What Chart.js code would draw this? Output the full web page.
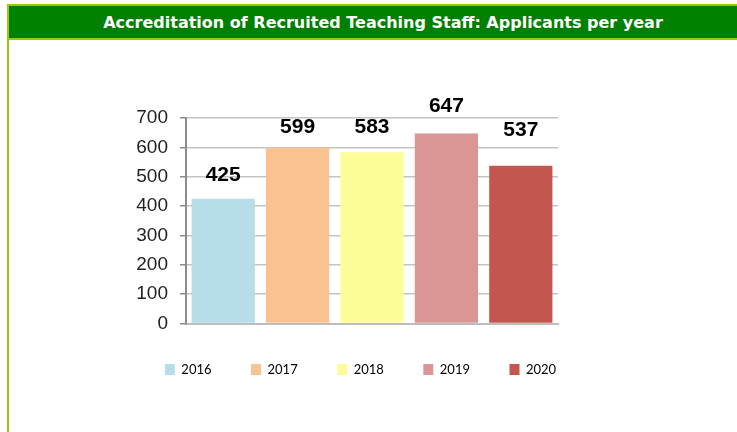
<!DOCTYPE html>
<html>
<head>
<meta charset="utf-8">
<script src="https://cdn.jsdelivr.net/npm/chart.js@4"></script>
<style>
  html, body { margin: 0; padding: 0; background: #fff; }
  body { width: 737px; height: 432px; position: relative; overflow: hidden; }
  #frame {
    position: absolute; left: 7px; top: 4px; right: -10px; bottom: -10px;
    border-left: 2px solid #99cc00; z-index: 2; pointer-events: none;
  }
  #head {
    height: 32px; background: #008000;
    border-top: 2px solid #99cc00; border-bottom: 2px solid #99cc00;
    color: #fff; font: bold 16px "DejaVu Sans", sans-serif;
    display: flex; align-items: center; justify-content: center;
    padding-left: 10px;
  }
  #wrap { position: absolute; left: 0; top: 0; width: 737px; height: 432px; z-index: 1; }
</style>
</head>
<body>
<div id="frame"><div id="head">Accreditation of Recruited Teaching Staff: Applicants per year</div></div>
<div id="wrap"><canvas id="chart"></canvas></div>
<script>
// ===== データ =====
const years = ["2016", "2017", "2018", "2019", "2020"];
const applicants = [425, 599, 583, 647, 537];
const yTicks = [0, 100, 200, 300, 400, 500, 600, 700];
const barColors = ["#b7dee8", "#fac191", "#fdfd97", "#d99694", "#c3574f"];

// 値ラベル（棒の上）
const valueLabels = {
  id: "valueLabels",
  afterDatasetsDraw(chart, args, opts) {
    const { ctx } = chart;
    const bars = chart.getDatasetMeta(0).data;
    ctx.save();
    ctx.font = "bold 21px 'Liberation Sans', Arial, sans-serif";
    ctx.fillStyle = "#000";
    ctx.textAlign = "center";
    ctx.textBaseline = "alphabetic";
    bars.forEach((b, i) => {
      ctx.fillText(String(applicants[i]), b.x, b.y - opts.gaps[i]);
    });
    ctx.restore();
  }
};

document.addEventListener("DOMContentLoaded", () => {
  const ctx = document.getElementById("chart");
  ctx.style.width = "737px";
  ctx.style.height = "432px";

  new Chart(ctx, {
    type: "bar",
    data: {
      labels: years,
      datasets: [{
        data: applicants,
        backgroundColor: barColors,
        borderWidth: 0,
        categoryPercentage: 1,
        barPercentage: 0.85
      }]
    },
    options: {
      responsive: false,
      animation: false,
      layout: { padding: { left: 0, right: 16, top: 118, bottom: 46 } },
      scales: {
        x: {
          grid: { display: false, drawTicks: false },
          border: { color: "#bdbdbd", width: 2 },
          ticks: { display: false }
        },
        y: {
          min: 0,
          max: 700,
          afterBuildTicks: s => { s.ticks = yTicks.map(v => ({ value: v })); },
          afterFit: s => { s.width = 186; },
          grid: { color: "#c3c3c3", lineWidth: 1.5, tickColor: "#8c8c8c", tickLength: 6 },
          border: { color: "#8c8c8c", width: 2 },
          ticks: {
            autoSkip: false,
            padding: 12,
            color: "#222",
            font: { family: "'Liberation Sans', Arial, sans-serif", size: 19 }
          }
        },
        // 右側の余白用（見えない軸）
        yR: {
          position: "right",
          grid: { display: false, drawTicks: false },
          border: { display: false },
          ticks: { display: false },
          afterFit: s => { s.width = 163; }
        }
      },
      plugins: {
        legend: {
          position: "bottom",
          labels: {
            boxWidth: 10,
            boxHeight: 11,
            padding: 39.5,
            color: "#333",
            font: { family: "Lato, sans-serif", size: 13 },
            generateLabels: () => years.map((y, i) => ({
              text: y, fillStyle: barColors[i], strokeStyle: barColors[i], lineWidth: 0, index: i
            }))
          }
        },
        tooltip: { enabled: false },
        valueLabels: { gaps: [18, 15, 19, 22, 30] }
      }
    },
    plugins: [valueLabels]
  });
});
</script>
</body>
</html>
